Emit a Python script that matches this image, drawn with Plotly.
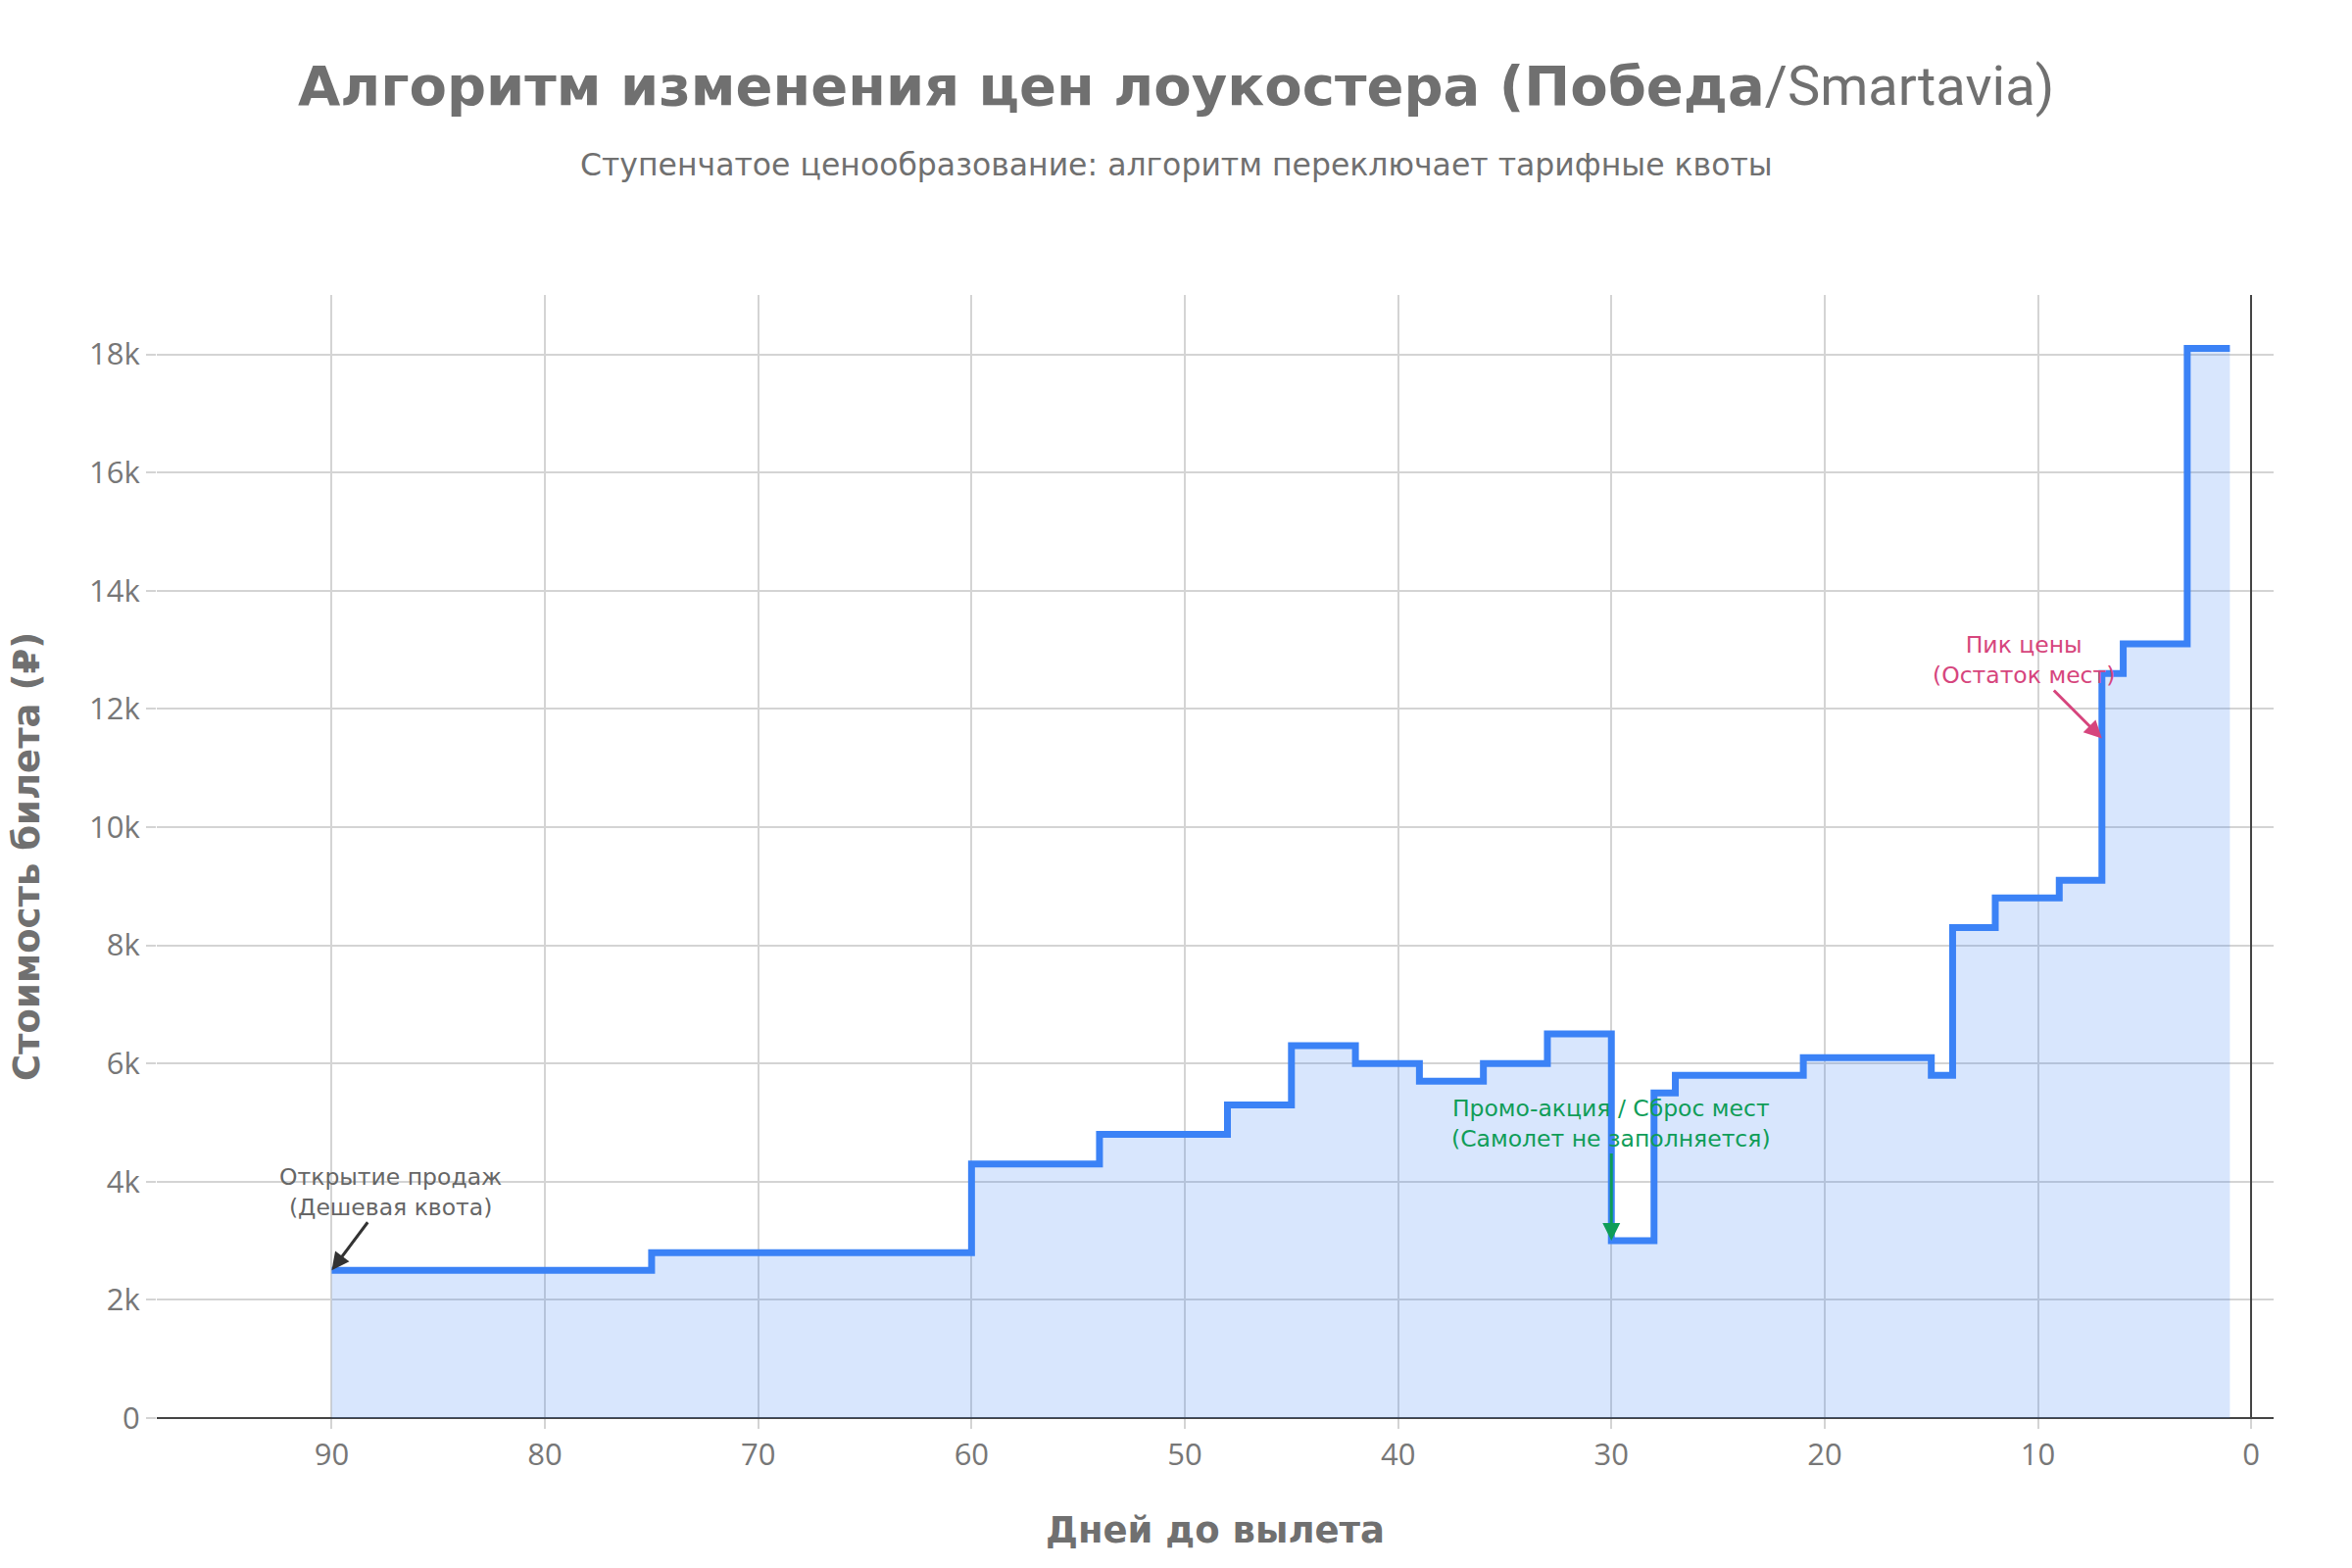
import plotly.graph_objects as go

# Change points of the fare (days before departure -> price, RUB)
days = [90, 75, 60, 54, 48, 45, 42, 39, 36, 33, 30, 28, 27, 21, 15, 14, 12, 9, 7, 6, 3, 1]
prices = [2500, 2800, 4300, 4800, 5300, 6300, 6000, 5700, 6000, 6500, 3000,
          5500, 5800, 6100, 5800, 8300, 8800, 9100, 12600, 13100, 18100, 18100]

x_ticks = [90, 80, 70, 60, 50, 40, 30, 20, 10, 0]
y_ticks = [0, 2000, 4000, 6000, 8000, 10000, 12000, 14000, 16000, 18000]
y_tick_labels = ["0", "2k", "4k", "6k", "8k", "10k", "12k", "14k", "16k", "18k"]

TEXT = "#707070"
TICK = "#777777"
GRID = "#d4d4d4"
BLUE = "#3B82F6"

W, H = 2400, 1600
ML, MR, MT, MB = 160, 80, 301, 153
PW, PH = W - ML - MR, H - MT - MB

fig = go.Figure()
fig.add_trace(go.Scatter(
    x=days, y=prices, mode="lines", line_shape="hv",
    line=dict(color=BLUE, width=7),
    fill="tozeroy", fillcolor="rgba(59,130,246,0.2)",
    showlegend=False, hoverinfo="skip",
))

ann_font = dict(family="DejaVu Sans", size=23.5)
annotations = [
    dict(x=90, y=2500, xref="x", yref="y", text="Открытие продаж<br>(Дешевая квота)",
         showarrow=True, arrowhead=2, arrowsize=1.2, arrowwidth=3, arrowcolor="#333333",
         ax=60, ay=-80, font=dict(color="#666666", **ann_font)),
    dict(x=30, y=3000, xref="x", yref="y", text="Промо-акция / Сброс мест<br>(Самолет не заполняется)",
         showarrow=True, arrowhead=2, arrowsize=1.2, arrowwidth=3, arrowcolor="#0F9D58",
         ax=0, ay=-120, font=dict(color="#0F9D58", **ann_font)),
    dict(x=7, y=11500, xref="x", yref="y", text="Пик цены<br>(Остаток мест)",
         showarrow=True, arrowhead=2, arrowsize=1.2, arrowwidth=3, arrowcolor="#D6457D",
         ax=-80, ay=-80, font=dict(color="#D6457D", **ann_font)),
    dict(x=(W / 2 - ML) / PW, y=1 + (MT - 168) / PH, xref="paper", yref="paper",
         xanchor="center", yanchor="middle",
         text="Ступенчатое ценообразование: алгоритм переключает тарифные квоты",
         showarrow=False, font=dict(family="DejaVu Sans", size=31.5, color=TEXT)),
]

fig.update_layout(
    paper_bgcolor="white", plot_bgcolor="white",
    margin=dict(l=ML, r=MR, t=MT, b=MB),
    title=dict(text="<b>Алгоритм изменения цен лоукостера (Победа</b>"
                    "<span style=\"font-family:Roboto\">/Smartavia)</span>",
               x=0.5, xref="container", xanchor="center", y=1 - 87 / H, yref="container", yanchor="middle",
               font=dict(family="DejaVu Sans", size=56, color=TEXT)),
    font=dict(family="Open Sans", color=TEXT),
    showlegend=False,
    annotations=annotations,
)

fig.update_xaxes(
    range=[98.2, -1.05], tickvals=x_ticks, ticktext=[str(v) for v in x_ticks],
    showgrid=True, gridcolor=GRID, gridwidth=2,
    zeroline=True, zerolinecolor="#444444", zerolinewidth=2,
    ticks="outside", ticklen=10, tickcolor=GRID, tickwidth=2,
    tickfont=dict(family="Open Sans", size=31, color=TICK),
    title=dict(text="<b>Дней до вылета</b>", standoff=44,
               font=dict(family="DejaVu Sans", size=37, color=TEXT)),
    automargin=False,
)
fig.update_yaxes(
    range=[0, 19005], tickvals=y_ticks, ticktext=y_tick_labels,
    showgrid=True, gridcolor=GRID, gridwidth=2,
    zeroline=True, zerolinecolor="#444444", zerolinewidth=2,
    ticks="outside", ticklen=10, tickcolor=GRID, tickwidth=2,
    tickfont=dict(family="Open Sans", size=31, color=TICK),
    title=dict(text="<b>Стоимость билета (₽)</b>", standoff=39,
               font=dict(family="DejaVu Sans", size=37, color=TEXT)),
    automargin=False,
)

fig.write_html("out.html")
